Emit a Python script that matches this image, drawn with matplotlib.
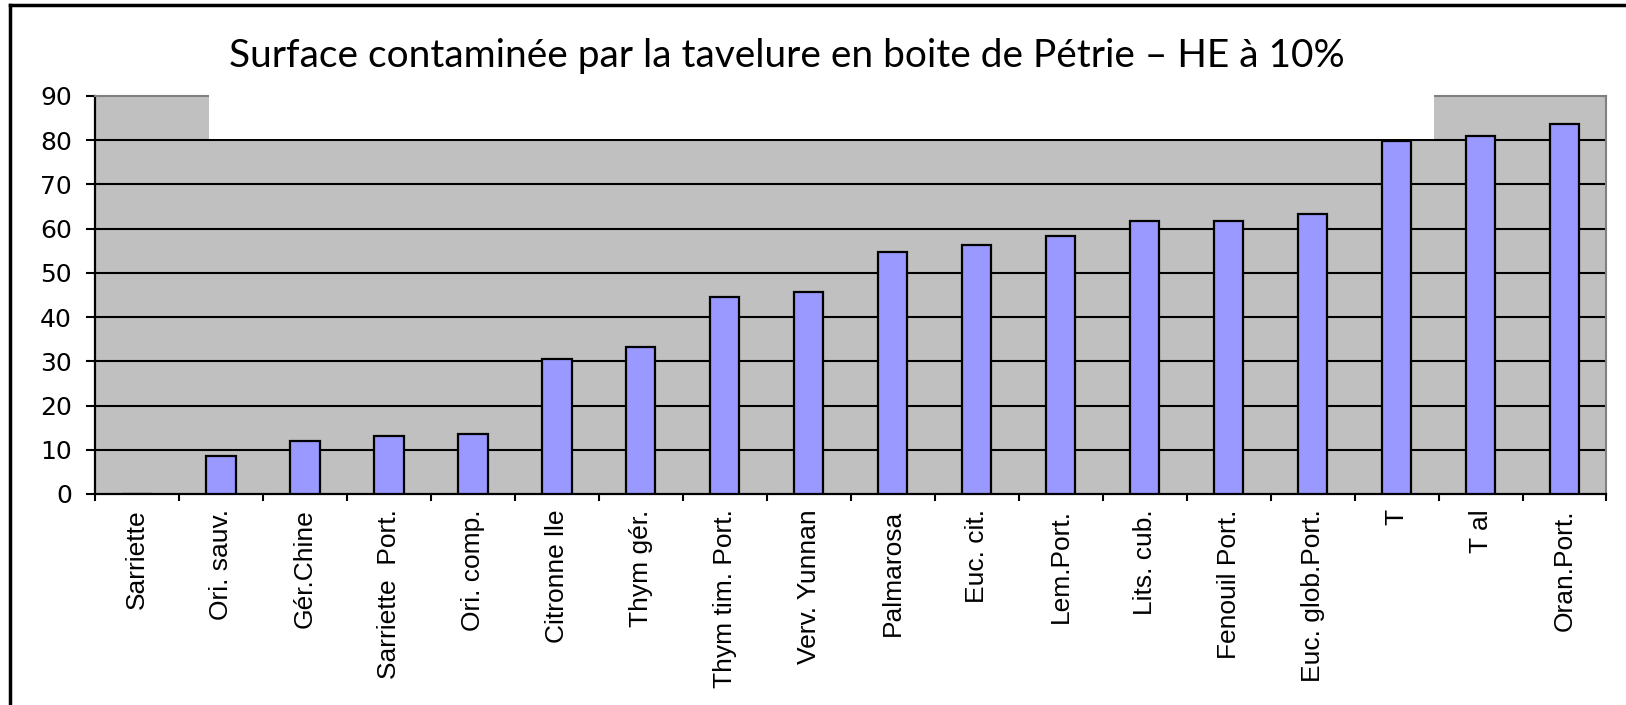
import matplotlib
matplotlib.use("Agg")
import matplotlib.pyplot as plt
from matplotlib.patches import Rectangle
from matplotlib.lines import Line2D

# Surface contaminée (%) par huile essentielle
categories = ["Sarriette", "Ori. sauv.", "Gér.Chine", "Sarriette  Port.", "Ori. comp.",
              "Citronne lle", "Thym gér.", "Thym tim. Port.", "Verv. Yunnan", "Palmarosa",
              "Euc. cit.", "Lem.Port.", "Lits. cub.", "Fenouil Port.", "Euc. glob.Port.",
              "T", "T al", "Oran.Port."]
surface = [0, 8.6, 11.9, 13.0, 13.5, 30.6, 33.2, 44.6, 45.6, 54.7,
           56.3, 58.4, 61.7, 61.7, 63.3, 79.9, 81.0, 83.6]
yticks = [0, 10, 20, 30, 40, 50, 60, 70, 80, 90]
title = "Surface contaminée par la tavelure en boite de Pétrie – HE à 10%"

fig = plt.figure(figsize=(16.26, 7.05), dpi=100)
ax = fig.add_axes([0.0584, 0.2993, 0.9296, 0.5647])

x = list(range(len(categories)))
ax.bar(x, surface, width=0.35, color="#9999ff", edgecolor="black", linewidth=1.6, zorder=3)

ax.set_facecolor("#c0c0c0")
ax.set_xlim(-0.5, len(categories) - 0.5)
ax.set_ylim(0, 90)
ax.hlines(yticks[1:-1], -0.5, len(categories) - 0.5, color="black", linewidth=1.5, zorder=1)

# white box behind the title, cuts into the plot area
ax.add_patch(Rectangle((0.857, 80.35), 15.44 - 0.857, 11, facecolor="white",
                       edgecolor="none", zorder=2.8, clip_on=False))

for s in ["top", "right"]:
    ax.spines[s].set_color("#808080")
    ax.spines[s].set_linewidth(1.5)
for s in ["left", "bottom"]:
    ax.spines[s].set_linewidth(1.6)

ax.set_yticks(yticks)
ax.tick_params(axis="y", length=6.5, width=1.5, pad=10, labelsize=18)
ax.set_yticklabels([str(v) for v in yticks], fontsize=18, family="DejaVu Sans")

ax.set_xticks(x)
ax.tick_params(axis="x", which="major", length=0, pad=11)
ax.set_xticklabels(categories, rotation=90, fontsize=19, family="Liberation Sans", va="top")
ax.set_xticks([i - 0.5 for i in range(len(categories) + 1)], minor=True)
ax.tick_params(axis="x", which="minor", length=5, width=1.5)

fig.text(0.484, 0.905, title, ha="center", va="baseline", fontsize=28, family="Lato")

# frame of the original figure (top and left sides visible)
fig.add_artist(Line2D([0.0062, 0.0062], [0, 0.993], color="black", linewidth=2.5))
fig.add_artist(Line2D([0.0062, 1], [0.993, 0.993], color="black", linewidth=2.5))

fig.savefig("out.png", dpi=100)
